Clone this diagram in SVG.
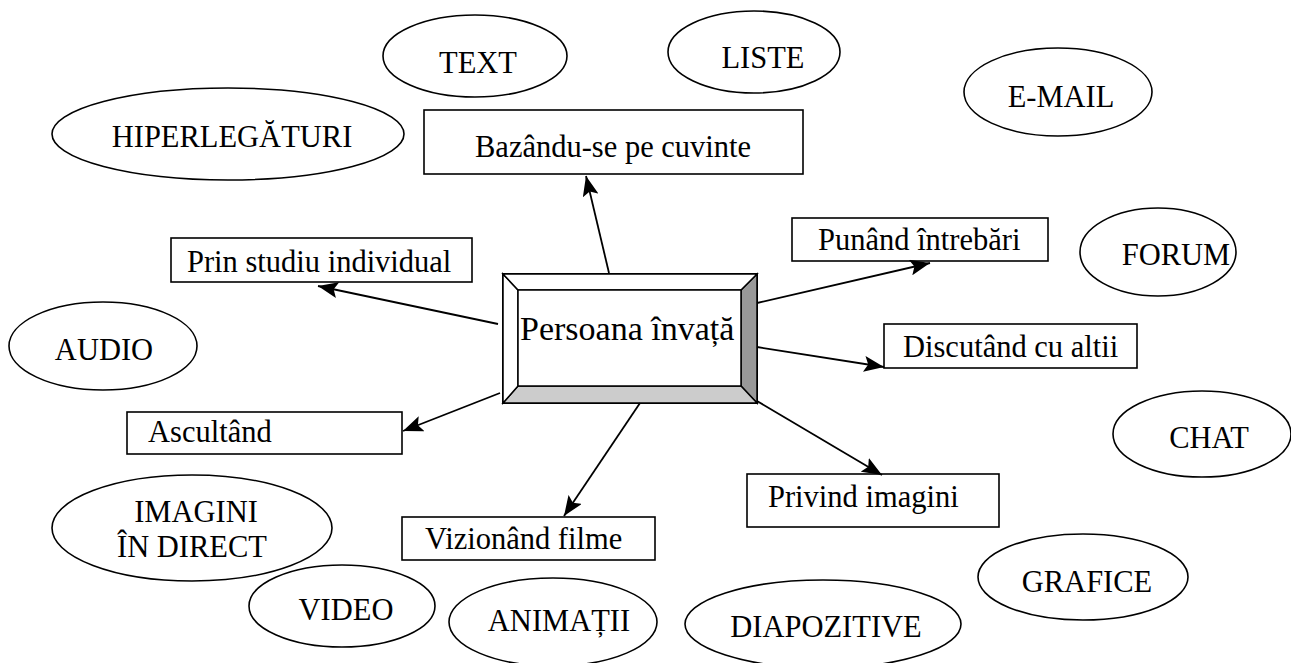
<svg xmlns="http://www.w3.org/2000/svg" width="1291" height="663" viewBox="0 0 1291 663">
<style>
text{font-family:'Liberation Serif',Tinos,'Times New Roman','Noto Serif','DejaVu Serif',serif;font-size:30.5px;fill:#000}
.el{fill:#fff;stroke:#000;stroke-width:1.6}
.bx{fill:#fff;stroke:#000;stroke-width:1.6}
.mid{text-anchor:middle}
.cn{stroke:#000;stroke-width:1.8;fill:none;marker-end:url(#ah)}
</style>
<defs>
<marker id="ah" markerUnits="userSpaceOnUse" markerWidth="22" markerHeight="16" refX="20" refY="8" orient="auto">
<path d="M0,0 L20,8 L0,16 L4,8 z" fill="#000"/>
</marker>
</defs>
<rect width="1291" height="663" fill="#fff"/>

<g id="n-hiperlegaturi"><ellipse class="el" cx="228" cy="134" rx="176" ry="46"/><text class="mid" x="232" y="147">HIPERLEGĂTURI</text></g>
<g id="n-text"><ellipse class="el" cx="475" cy="56" rx="92" ry="41"/><text class="mid" x="478" y="73">TEXT</text></g>
<g id="n-liste"><ellipse class="el" cx="754" cy="52" rx="86" ry="41"/><text class="mid" x="763" y="68">LISTE</text></g>
<g id="n-email"><ellipse class="el" cx="1058" cy="92" rx="94" ry="44"/><text class="mid" x="1061" y="107">E-MAIL</text></g>
<g id="n-forum"><ellipse class="el" cx="1158" cy="252" rx="78" ry="44"/><text class="mid" x="1176" y="265">FORUM</text></g>
<g id="n-audio"><ellipse class="el" cx="103" cy="346" rx="94" ry="44"/><text class="mid" x="104" y="360">AUDIO</text></g>
<g id="n-chat"><ellipse class="el" cx="1202" cy="434" rx="89" ry="43"/><text class="mid" x="1209" y="448">CHAT</text></g>
<g id="n-grafice"><ellipse class="el" cx="1083" cy="577" rx="105" ry="43"/><text class="mid" x="1087" y="592">GRAFICE</text></g>
<g id="n-imagini"><ellipse class="el" cx="192" cy="528" rx="140" ry="53"/><text class="mid" x="196" y="522">IMAGINI</text><text class="mid" x="192" y="557">ÎN DIRECT</text></g>
<g id="n-video"><ellipse class="el" cx="342" cy="606" rx="93" ry="41"/><text class="mid" x="346" y="620">VIDEO</text></g>
<g id="n-animatii"><ellipse class="el" cx="553" cy="622" rx="104" ry="44"/><text class="mid" x="559" y="631">ANIMAȚII</text></g>
<g id="n-diapozitive"><ellipse class="el" cx="823" cy="624" rx="138" ry="44"/><text class="mid" x="826" y="637">DIAPOZITIVE</text></g>

<g id="n-bazandu"><rect class="bx" x="424" y="110" width="379" height="64"/><text x="475" y="157">Bazându-se pe cuvinte</text></g>
<g id="n-prin"><rect class="bx" x="171" y="238" width="301" height="44"/><text x="187" y="272">Prin studiu individual</text></g>
<g id="n-ascultand"><rect class="bx" x="127" y="412" width="275" height="42"/><text x="148" y="442">Ascultând</text></g>
<g id="n-punand"><rect class="bx" x="792" y="218" width="256" height="43"/><text x="818" y="250">Punând întrebări</text></g>
<g id="n-discutand"><rect class="bx" x="884" y="324" width="253" height="44"/><text x="903" y="357">Discutând cu altii</text></g>
<g id="n-vizionand"><rect class="bx" x="402" y="517" width="253" height="43"/><text x="425" y="549">Vizionând filme</text></g>
<g id="n-privind"><rect class="bx" x="747" y="474" width="252" height="53"/><text x="768" y="507">Privind imagini</text></g>

<g id="n-center">
<rect x="503" y="274" width="254" height="129" fill="#fff" stroke="#000" stroke-width="2"/>
<polygon points="741,290 757,274 757,403 741,386" fill="#999" stroke="#000" stroke-width="1.5"/>
<polygon points="518,386 741,386 757,403 503,403" fill="#ccc" stroke="#000" stroke-width="1.5"/>
<polygon points="503,274 518,290 518,386 503,403" fill="#fff" stroke="#000" stroke-width="1.5"/>
<polygon points="503,274 757,274 741,290 518,290" fill="#fff" stroke="#000" stroke-width="1.5"/>
<rect x="518" y="290" width="223" height="96" fill="#fff" stroke="#000" stroke-width="1.5"/>
<text x="520" y="340" style="font-size:34px">Persoana învață</text>
</g>

<g id="connectors">
<line class="cn" x1="609" y1="273" x2="586" y2="176"/>
<line class="cn" x1="498" y1="324" x2="318" y2="286"/>
<line class="cn" x1="500" y1="393" x2="403" y2="431"/>
<line class="cn" x1="757" y1="303" x2="930" y2="263"/>
<line class="cn" x1="757" y1="347" x2="884" y2="367"/>
<line class="cn" x1="640" y1="403" x2="564" y2="516"/>
<line class="cn" x1="757" y1="401" x2="882" y2="475"/>
</g>
</svg>
